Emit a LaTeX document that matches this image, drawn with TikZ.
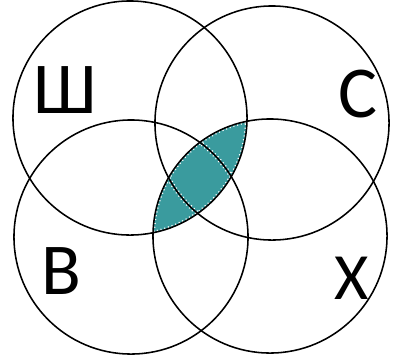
\documentclass[tikz,border=0pt]{standalone}
\usepackage{fontspec}
\setmainfont{Carlito}
\definecolor{lenscol}{RGB}{58,155,158}
\begin{document}
\begin{tikzpicture}[x=0.025cm, y=-0.025cm, line width=1.1pt,
	letter/.style={font=\fontsize{52}{52}\selectfont, inner sep=0pt},
	dots/.style={white, line width=3pt, dash pattern=on 0.8pt off 2pt}]
	\useasboundingbox (0,0) rectangle (394,357);
	\def\rad{2.925cm}
	% ========== centres of the four circles ==========
	\coordinate (csh) at (130,118);
	\coordinate (cs) at (272,123);
	\coordinate (cv) at (131,237);
	\coordinate (ch) at (270,236);
	
	% ========== shaded lens (Ш and Х) ==========
	\begin{scope}
		\clip (csh) circle (\rad);
		\fill[lenscol] (ch) circle (\rad);
	\end{scope}
	\begin{scope}
		\clip (csh) circle (\rad);
		\clip (ch) circle (\rad);
		\foreach \c in {csh,cs,cv,ch}
			\draw[dots] (\c) circle (\rad);
	\end{scope}
	
	% ========== circles ==========
	\foreach \c in {csh,cs,cv,ch}
		\draw (\c) circle (\rad);
	
	% ========== labels ==========
	\node[letter] (lsh) at (65,90) {Ш};
	\node[letter] (ls) at (358,94) {С};
	\node[letter] (lv) at (61,271) {В};
	\node[letter, font=\fontsize{47}{47}\selectfont] (lh) at (352,278) {Х};
\end{tikzpicture}
\end{document}
